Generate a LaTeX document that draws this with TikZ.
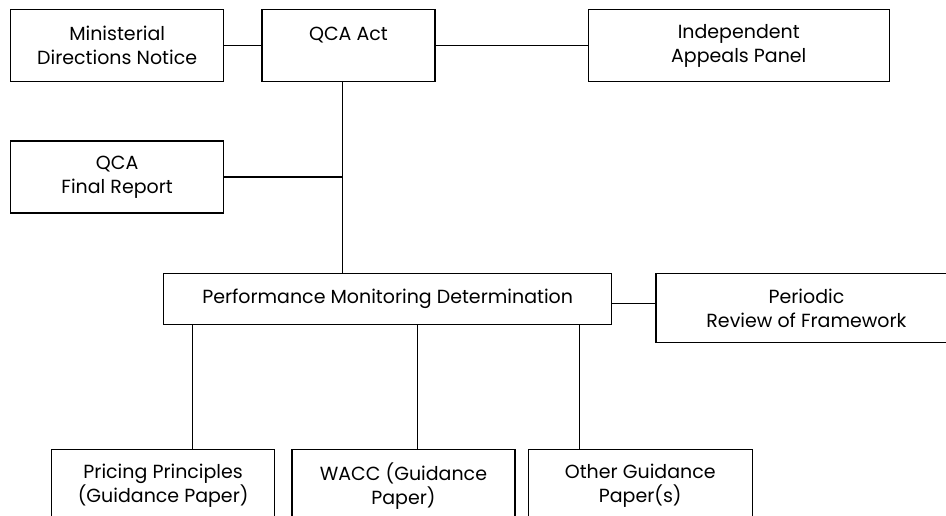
\documentclass[tikz,border=0pt]{standalone}
\usepackage{fontspec}
\setmainfont{Poppins}
\usetikzlibrary{positioning}
\begin{document}
\begin{tikzpicture}[x=1pt, y=1pt]
            % Block style
            \tikzstyle{block} = [rectangle, draw, line width=1.3pt, align=center, inner sep=0pt, minimum height=72pt, font=\fontsize{19}{24}\selectfont]
            \tikzstyle{link} = [line width=1.3pt]

            \useasboundingbox (0,0) rectangle (946,-516);

            % Top row
            \node[block, anchor=north west, minimum width=213pt] (mdn) at (10,-9) {Ministerial\\Directions Notice};
            \node[block, right=37pt of mdn, minimum width=173pt] (act) {QCA Act\\\mbox{}};
            \node[block, right=152pt of act, minimum width=301pt] (iap) {Independent\\Appeals Panel};

            % Final report
            \node[block, below=58pt of mdn, minimum width=213pt] (qfr) {QCA\\Final Report};

            % Determination and review
            \node[block, anchor=north west, minimum width=448pt, minimum height=51pt] (pmd) at (163,-273) {Performance Monitoring Determination};
            \node[block, right=43pt of pmd.north east, anchor=north west, minimum width=301pt, minimum height=69pt] (prf) {Periodic\\Review of Framework};

            % Guidance papers (cut by the page edge)
            \node[block, anchor=north west, minimum width=223pt] (pp) at (51,-449) {Pricing Principles\\(Guidance Paper)};
            \node[block, right=16pt of pp, minimum width=223pt] (wacc) {WACC (Guidance\\Paper)};
            \node[block, right=12pt of wacc, minimum width=224pt] (ogp) {Other Guidance\\Paper(s)};

            % Connections
            \draw[link] (mdn) -- (act);
            \draw[link] (act) -- (iap);
            \coordinate (trunk) at ([xshift=-6pt]act.south);
            \draw[link] (trunk) -- (trunk |- pmd.north);
            \draw[link] (qfr.east) -- (qfr.east -| trunk);
            \draw[link] ([yshift=-4pt]pmd.east) -- ([yshift=-4pt]pmd.east -| prf.west);

            % Determination feeds the guidance papers
            \draw[link] ([xshift=29pt]pp.north) -- ([xshift=29pt]pp.north |- pmd.south);
            \draw[link] ([xshift=14pt]wacc.north) -- ([xshift=14pt]wacc.north |- pmd.south);
            \draw[link] ([xshift=-61pt]ogp.north) -- ([xshift=-61pt]ogp.north |- pmd.south);
\end{tikzpicture}
\end{document}
